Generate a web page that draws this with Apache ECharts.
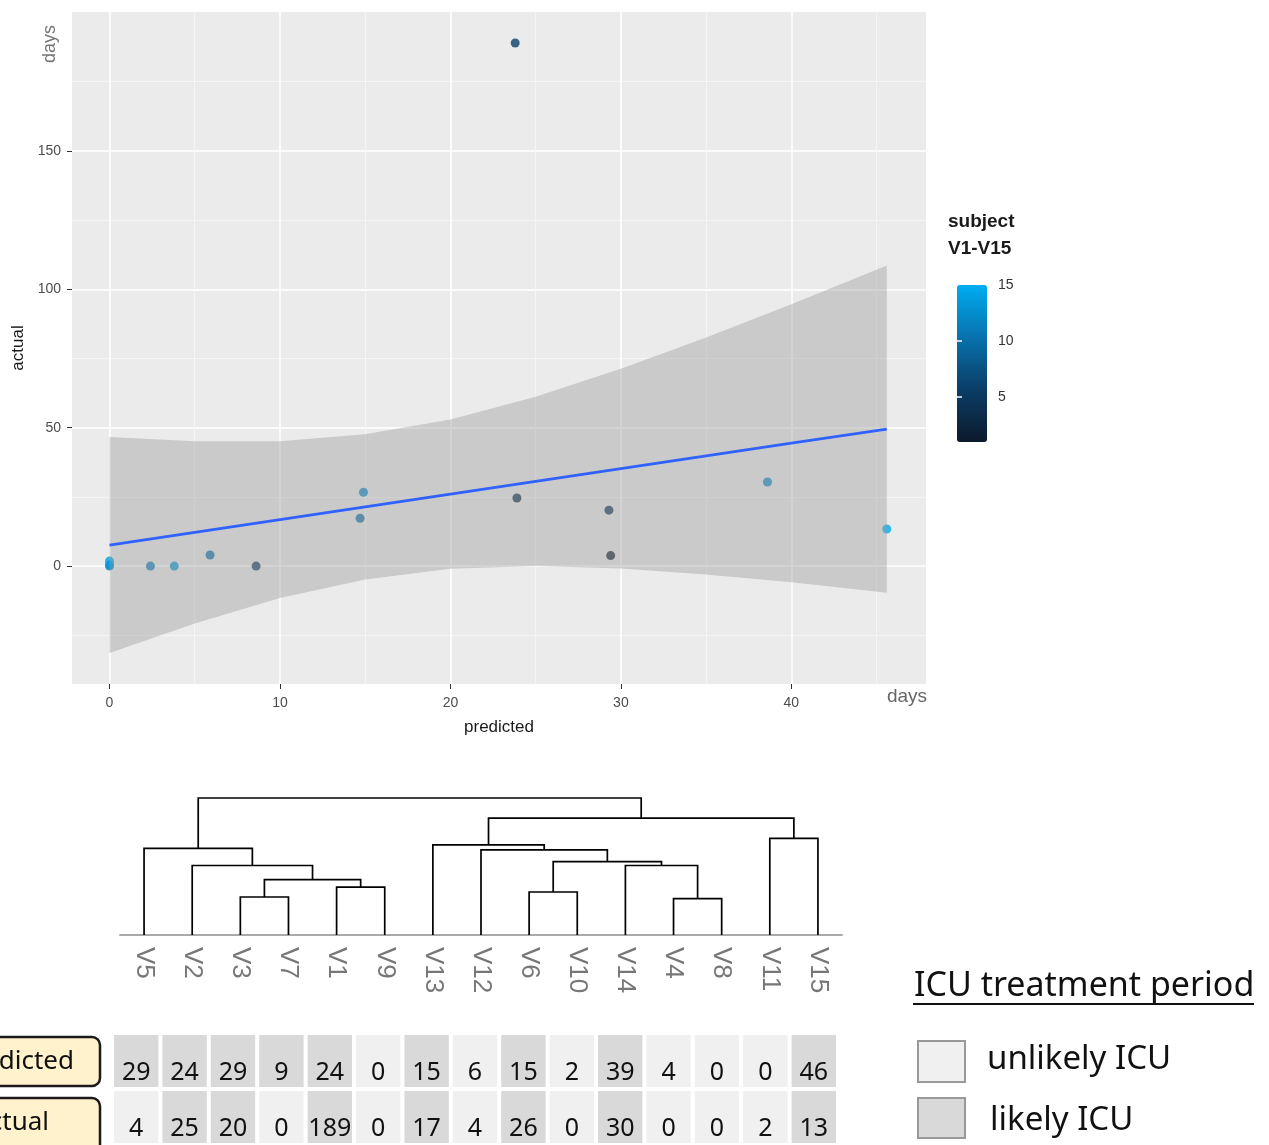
<!DOCTYPE html>
<html>
<head>
<meta charset="utf-8">
<style>
  html, body { margin: 0; padding: 0; background: #fff; }
  #main { width: 1269px; height: 1145px; }
</style>
<script src="https://cdn.jsdelivr.net/npm/echarts@6/dist/echarts.min.js"></script>
</head>
<body>
<div id="main"></div>
<script>
// scatter: predicted vs actual days, colour = subject
var predicted = [0, 0, 0, 2.4, 3.8, 5.9, 8.6, 14.7, 14.9, 23.8, 23.9, 29.3, 29.4, 38.6, 45.6];
var actual    = [0, 0.5, 1.8, 0, 0, 4, 0, 17.3, 26.7, 189, 24.6, 20.2, 3.8, 30.4, 13.4];
var subject   = [12, 13, 14, 11, 13, 10, 5, 10, 12, 6, 3, 4, 1, 12, 15];

// lm fit line and its confidence band
var fitX   = [0, 5, 10, 15, 20, 25, 30, 35, 40, 45.6];
var fitY   = [7.6, 12.2, 16.8, 21.4, 26.0, 30.6, 35.2, 39.8, 44.4, 49.5];
var bandLo = [-31.4, -20.7, -11.5, -4.8, -1.0, 0.0, -0.9, -3.0, -5.8, -9.6];
var bandHi = [46.6, 45.1, 45.1, 47.6, 53.0, 61.2, 71.3, 82.6, 94.6, 108.6];

var xTicks = [0, 10, 20, 30, 40];
var yTicks = [0, 50, 100, 150];
var barTicks = [5, 10, 15];

// dendrogram, hclust style: negative = leaf (1-based), positive = earlier merge
var leaves = ['V5','V2','V3','V7','V1','V9','V13','V12','V6','V10','V14','V4','V8','V11','V15'];
var mergeA = [-12, -3, -9, -5, 2, -2, -11, 3, -8, -1, -7, -14, 11, 10];
var mergeB = [-13, -4, -10, -6, 4, 5, 1, 7, 8, 6, 9, -15, 12, 13];
var mergeH = [3.67, 3.83, 4.33, 4.83, 5.57, 7.0, 7.0, 7.4, 8.57, 8.73, 9.07, 9.73, 11.77, 13.8];

// table under the dendrogram
var predDays   = [29, 24, 29, 9, 24, 0, 15, 6, 15, 2, 39, 4, 0, 0, 46];
var actDays    = [4, 25, 20, 0, 189, 0, 17, 4, 26, 0, 30, 0, 0, 2, 13];
var predLikely = [1, 1, 1, 1, 1, 0, 1, 0, 1, 0, 1, 0, 0, 0, 1];
var actLikely  = [0, 1, 1, 0, 1, 0, 1, 0, 1, 0, 1, 0, 0, 0, 1];

var likelyCol = '#d9d9d9', unlikelyCol = '#f0f0f0';
var gg = 'Liberation Sans', cal = 'Noto Sans';

var pts = predicted.map(function (p, i) { return [p, actual[i], subject[i]]; });
var band = fitX.map(function (x, i) { return [x, bandLo[i], bandHi[i]]; });
var fit = fitX.map(function (x, i) { return [x, fitY[i]]; });

// position / height of every node of the tree
var nodePos = [], nodeH = [];
function nodeInfo(id) {
  if (id < 0) return [-id - 1, 0];
  return [nodePos[id - 1], nodeH[id - 1]];
}
var links = [];
for (var i = 0; i < mergeA.length; i++) {
  var a = nodeInfo(mergeA[i]), b = nodeInfo(mergeB[i]);
  nodePos.push((a[0] + b[0]) / 2);
  nodeH.push(mergeH[i]);
  links.push([a[0], b[0], mergeH[i], a[1], b[1]]);
}

var cells = [];
predDays.forEach(function (v, i) { cells.push([i, 0, v, predLikely[i]]); });
actDays.forEach(function (v, i) { cells.push([i, 1, v, actLikely[i]]); });

var chart = echarts.init(document.getElementById('main'));

var option = {
  backgroundColor: '#fff',
  animation: false,
  grid: [
    { left: 72, top: 12, width: 854, height: 672, show: true, backgroundColor: '#ebebeb', borderWidth: 0 },
    { left: 120, top: 798, width: 722, height: 137 },
    { left: 112, top: 1033, width: 726, height: 116 },
    { left: 957, top: 285, width: 30, height: 157 }
  ],
  xAxis: [
    {
      gridIndex: 0, type: 'value', min: -2.2, max: 47.9,
      name: 'predicted', nameLocation: 'middle', nameGap: 35,
      nameTextStyle: { fontFamily: gg, fontSize: 17, color: '#1a1a1a' },
      axisLine: { show: false, onZero: false },
      axisTick: { customValues: xTicks, length: 5, lineStyle: { color: '#333' } },
      axisLabel: { customValues: xTicks, margin: 12, fontFamily: gg, fontSize: 14, color: '#4d4d4d' },
      splitLine: { lineStyle: { color: '#fbfbfb', width: 2 } },
      minorTick: { show: false, splitNumber: 2 },
      minorSplitLine: { show: true, lineStyle: { color: '#f5f5f5', width: 1 } }
    },
    {
      gridIndex: 1, type: 'category', data: leaves, position: 'bottom',
      axisLine: { lineStyle: { color: '#aaaaaa', width: 2 } },
      axisTick: { show: false },
      axisLabel: { rotate: -90, margin: 12, fontFamily: gg, fontSize: 26, color: '#777' }
    },
    { gridIndex: 1, type: 'value', min: -0.5, max: 14.5, position: 'top', show: false },
    { gridIndex: 2, type: 'value', min: -0.5, max: 14.5, show: false },
    { gridIndex: 3, type: 'value', min: 0, max: 1, show: false }
  ],
  yAxis: [
    {
      gridIndex: 0, type: 'value', min: -42.6, max: 200.2,
      name: 'actual', nameLocation: 'middle', nameGap: 43,
      nameTextStyle: { fontFamily: gg, fontSize: 17, color: '#1a1a1a' },
      axisLine: { show: false, onZero: false },
      axisTick: { customValues: yTicks, length: 5, lineStyle: { color: '#333' } },
      axisLabel: { customValues: yTicks, margin: 11, fontFamily: gg, fontSize: 14, color: '#4d4d4d' },
      splitLine: { lineStyle: { color: '#fbfbfb', width: 2 } },
      minorTick: { show: false, splitNumber: 2 },
      minorSplitLine: { show: true, lineStyle: { color: '#f5f5f5', width: 1 } }
    },
    { gridIndex: 1, type: 'value', min: 0, max: 13.8, show: false },
    { gridIndex: 2, type: 'value', min: 0, max: 2, inverse: true, show: false },
    {
      gridIndex: 3, type: 'value', min: 1, max: 15, position: 'right', z: 10,
      axisLine: { show: false },
      axisTick: { inside: true, length: 5, customValues: [5, 10], lineStyle: { color: '#fff', width: 1.5 } },
      axisLabel: { customValues: barTicks, margin: 11, fontFamily: gg, fontSize: 14, color: '#333' },
      splitLine: { show: false }
    },
    {
      gridIndex: 3, type: 'value', min: 1, max: 15, position: 'left', z: 10,
      axisLine: { show: false },
      axisTick: { inside: true, length: 5, customValues: [5, 10], lineStyle: { color: '#fff', width: 1.5 } },
      axisLabel: { show: false },
      splitLine: { show: false }
    }
  ],
  visualMap: {
    type: 'continuous', seriesIndex: 0, dimension: 2, min: 1, max: 15,
    left: 957, top: 285, itemWidth: 30, itemHeight: 157, padding: 0,
    calculable: false, hoverLink: false, z: 1,
    inRange: { color: ['#0c1a2c', '#0a3d66', '#0872ad', '#00adf2'] }
  },
  series: [
    {
      type: 'scatter', xAxisIndex: 0, yAxisIndex: 0, data: pts,
      symbolSize: 9, z: 2
    },
    {
      type: 'custom', xAxisIndex: 0, yAxisIndex: 0, data: band, z: 3,
      renderItem: function (params, api) {
        if (params.dataIndex !== 0) return null;
        var poly = [];
        for (var k = 0; k < fitX.length; k++) poly.push(api.coord([fitX[k], bandHi[k]]));
        for (var k = fitX.length - 1; k >= 0; k--) poly.push(api.coord([fitX[k], bandLo[k]]));
        return { type: 'polygon', shape: { points: poly }, style: { fill: 'rgba(153,153,153,0.4)' } };
      }
    },
    {
      type: 'line', xAxisIndex: 0, yAxisIndex: 0, data: fit, z: 4,
      symbol: 'none', lineStyle: { color: '#2f62ff', width: 2.8 }
    },
    {
      type: 'custom', xAxisIndex: 2, yAxisIndex: 1, data: links,
      encode: { x: [0, 1], y: [2, 3, 4] },
      renderItem: function (params, api) {
        var x1 = api.value(0), x2 = api.value(1), h = api.value(2);
        var p = [api.coord([x1, api.value(3)]), api.coord([x1, h]), api.coord([x2, h]), api.coord([x2, api.value(4)])];
        return { type: 'polyline', shape: { points: p }, style: { stroke: '#000', lineWidth: 1.7, fill: null } };
      }
    },
    {
      type: 'custom', xAxisIndex: 3, yAxisIndex: 2, data: cells,
      encode: { x: 0, y: 1 },
      renderItem: function (params, api) {
        var c = api.value(0), r = api.value(1);
        var p0 = api.coord([c - 0.5, r]), p1 = api.coord([c + 0.5, r + 1]);
        var x0 = Math.min(p0[0], p1[0]), y0 = Math.min(p0[1], p1[1]);
        var w = Math.abs(p1[0] - p0[0]), h = Math.abs(p1[1] - p0[1]);
        return {
          type: 'group',
          children: [
            { type: 'rect', shape: { x: x0 + 2, y: y0 + 2, width: w - 4, height: h - 4 },
              style: { fill: api.value(3) ? likelyCol : unlikelyCol } },
            { type: 'text', style: { text: String(api.value(2)), x: x0 + w / 2, y: y0 + h / 2 + 12,
              align: 'center', verticalAlign: 'middle', fontFamily: cal, fontSize: 25, fill: '#111' } }
          ]
        };
      }
    }
  ],
  graphic: [
    { type: 'text', x: 50, y: 44, rotation: Math.PI / 2,
      style: { text: 'days', align: 'center', verticalAlign: 'middle', fontFamily: gg, fontSize: 18, fill: '#777' } },
    { type: 'text', x: 907, y: 697,
      style: { text: 'days', align: 'center', verticalAlign: 'middle', fontFamily: gg, fontSize: 19, fill: '#666' } },
    { type: 'text', x: 948, y: 222,
      style: { text: 'subject', align: 'left', verticalAlign: 'middle', fontFamily: gg, fontSize: 19, fontWeight: 'bold', fill: '#1a1a1a' } },
    { type: 'text', x: 948, y: 249,
      style: { text: 'V1-V15', align: 'left', verticalAlign: 'middle', fontFamily: gg, fontSize: 19, fontWeight: 'bold', fill: '#1a1a1a' } },

    { type: 'rect', shape: { x: -40, y: 1037, width: 140, height: 49, r: 8 },
      style: { fill: '#fff2cc', stroke: '#1a1a1a', lineWidth: 2.5 } },
    { type: 'text', x: 74, y: 1062,
      style: { text: 'predicted', align: 'right', verticalAlign: 'middle', fontFamily: cal, fontSize: 26, fill: '#111' } },
    { type: 'rect', shape: { x: -40, y: 1098, width: 140, height: 60, r: 8 },
      style: { fill: '#fff2cc', stroke: '#1a1a1a', lineWidth: 2.5 } },
    { type: 'text', x: 49, y: 1123,
      style: { text: 'actual', align: 'right', verticalAlign: 'middle', fontFamily: cal, fontSize: 26, fill: '#111' } },

    { type: 'text', x: 914, y: 986,
      style: { text: 'ICU treatment period', align: 'left', verticalAlign: 'middle', fontFamily: cal, fontSize: 34, fill: '#111' } },
    { type: 'line', shape: { x1: 913, y1: 1004, x2: 1254, y2: 1004 }, style: { stroke: '#111', lineWidth: 2 } },
    { type: 'rect', shape: { x: 918, y: 1041, width: 47, height: 41 },
      style: { fill: unlikelyCol, stroke: '#999', lineWidth: 2 } },
    { type: 'text', x: 987, y: 1060,
      style: { text: 'unlikely ICU', align: 'left', verticalAlign: 'middle', fontFamily: cal, fontSize: 33, fill: '#111' } },
    { type: 'rect', shape: { x: 918, y: 1098, width: 47, height: 40 },
      style: { fill: likelyCol, stroke: '#999', lineWidth: 2 } },
    { type: 'text', x: 990, y: 1121,
      style: { text: 'likely ICU', align: 'left', verticalAlign: 'middle', fontFamily: cal, fontSize: 33, fill: '#111' } }
  ]
};

chart.setOption(option);
window.addEventListener('resize', function () { chart.resize(); });
</script>
</body>
</html>
